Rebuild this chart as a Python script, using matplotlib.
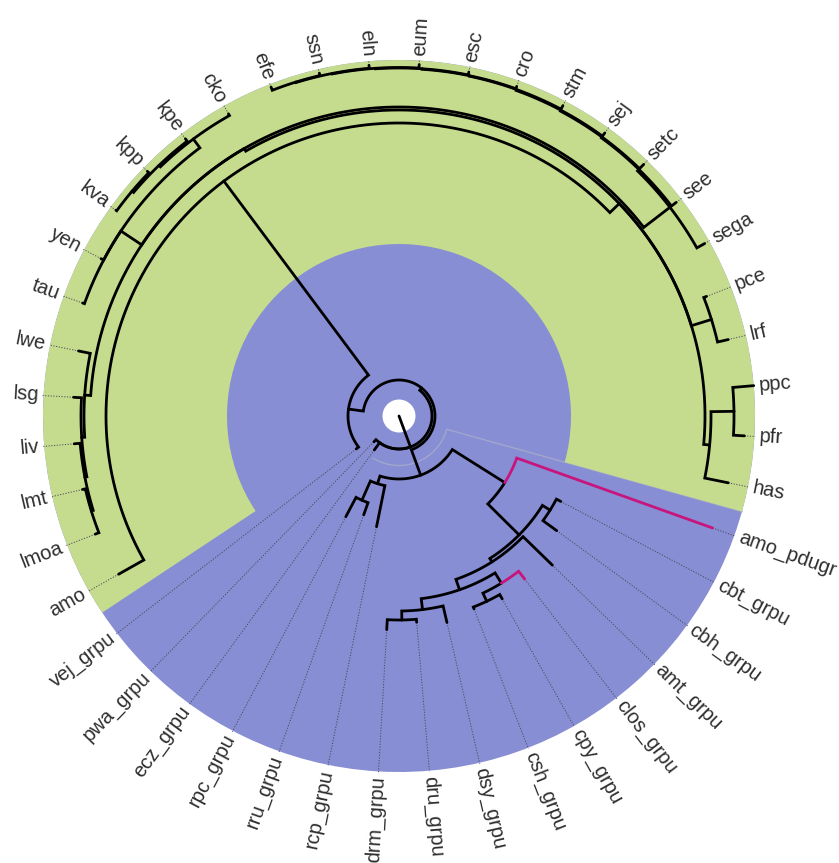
import numpy as np
import matplotlib
matplotlib.use("Agg")
import matplotlib.pyplot as plt

# ---------------- data ----------------
# tips in circular order (counter-clockwise)
tips = ["pwa_grpu", "ecz_grpu", "rpc_grpu", "rru_grpu", "rcp_grpu", "drm_grpu",
        "dru_grpu", "dsy_grpu", "csh_grpu", "cpy_grpu", "clos_grpu", "amt_grpu",
        "cbh_grpu", "cbt_grpu", "amo_pdugr", "has", "pfr", "ppc", "lrf", "pce",
        "sega", "see", "setc", "sej", "stm", "cro", "esc", "eum", "eln", "ssn",
        "efe", "cko", "kpe", "kpp", "kva", "yen", "tau", "lwe", "lsg", "liv",
        "lmt", "lmoa", "amo", "vej_grpu"]
# distance from root of each tip
tip_depth = [36, 42, 114, 105, 113, 214, 207, 212, 207, 210, 206, 214,
             195, 183, 333, 336, 346, 356, 338, 330,
             351, 350, 351, 350, 351, 350, 351, 352, 352, 352,
             353, 347, 350, 351, 350, 337, 336, 327, 326, 326,
             325, 326, 322, 54]
# internal nodes: name, distance from root, children
node_names = ["root", "E1", "E2", "A", "N1", "N2", "N3", "N6", "N5", "X", "Y",
              "Q", "Rn", "T", "U", "D", "G", "J1", "P3", "P2", "P1", "M",
              "EF1", "EF2", "EF3", "EF4", "EF5", "EF6", "EF7", "EF8", "EF9", "EF10",
              "K0", "C", "KL", "KV", "Lst", "L2", "L3", "L4"]
node_depth = [0, 33, 36, 63, 71, 92, 125, 169, 178, 173, 184,
              196, 205, 195, 204, 51, 293, 306, 312, 335, 327, 309,
              342, 344, 345, 346, 347, 347.5, 348, 348.5, 349, 349.5,
              334, 345, 347, 349, 315, 318, 320, 322]
node_children = [
    ["E1"], ["pwa_grpu", "ecz_grpu", "E2"], ["A", "D"], ["N1", "N3"],
    ["N2", "rcp_grpu"], ["rpc_grpu", "rru_grpu"], ["N6", "amo_pdugr"],
    ["X", "N5"], ["cbh_grpu", "cbt_grpu"], ["Y", "amt_grpu"], ["T", "Q"],
    ["Rn", "clos_grpu"], ["csh_grpu", "cpy_grpu"], ["U", "dsy_grpu"],
    ["drm_grpu", "dru_grpu"], ["G", "vej_grpu"], ["J1", "amo"],
    ["P3", "P1", "M"], ["has", "P2"], ["pfr", "ppc"], ["lrf", "pce"],
    ["EF1", "K0", "Lst"],
    ["sega", "EF2"], ["see", "EF3"], ["setc", "EF4"], ["sej", "EF5"],
    ["stm", "EF6"], ["cro", "EF7"], ["esc", "EF8"], ["eum", "EF9"],
    ["eln", "EF10"], ["ssn", "efe"],
    ["C", "yen", "tau"], ["cko", "KL"], ["kpe", "KV"], ["kpp", "kva"],
    ["lwe", "L2"], ["lsg", "L3"], ["liv", "L4"], ["lmt", "lmoa"]]
magenta_tips = ["amo_pdugr", "clos_grpu"]
hilight_nodes = ["E1", "A", "G"]
hilight_fill = ["#878ed3", "none", "#c5dc8e"]

start_angle = 225.8      # angle of first tip (degrees)
outer_radius = 356
label_radius = 361

# ---------------- layout ----------------
depth = dict(zip(tips, tip_depth))
depth.update(zip(node_names, node_depth))
children = dict(zip(node_names, node_children))
parent = {c: p for p, cs in children.items() for c in cs}
ypos = {t: i + 1 for i, t in enumerate(tips)}


def get_y(n):
    if n not in ypos:
        ypos[n] = np.mean([get_y(c) for c in children[n]])
    return ypos[n]


for n in node_names:
    get_y(n)
step = 360.0 / len(tips)


def ang(y):
    return np.deg2rad(start_angle + (y - 1) * step)


def tip_range(n):
    if n in children:
        ys = []
        for c in children[n]:
            ys += tip_range(c)
        return ys
    return [ypos[n]]


# ---------------- figure ----------------
W, H = 839, 863
cx, cy = 399, 416
R = 430
fig = plt.figure(figsize=(W / 100, H / 100), dpi=100)
ax = fig.add_axes([(cx - R) / W, (H - cy - R) / H, 2 * R / W, 2 * R / H],
                  projection="polar")
ax.set_ylim(0, R)
ax.set_axis_off()

# highlights
for k, (n, fc) in enumerate(zip(hilight_nodes, hilight_fill)):
    ys = tip_range(n)
    t0, t1 = ang(min(ys) - 0.5), ang(max(ys) + 0.5)
    r0 = depth[n] - 0.5 * (depth[n] - depth[parent[n]])
    if fc != "none":
        ax.bar((t0 + t1) / 2, outer_radius - r0, width=t1 - t0, bottom=r0,
               color=fc, linewidth=0, zorder=1 + 0.1 * k)
    else:
        th = np.linspace(t0, t1, 200)
        ax.plot(np.r_[th, t1], np.r_[np.full(200, r0), outer_radius],
                color="#a3a6cc", lw=1.0, zorder=1 + 0.1 * k)

# dotted leaders
for t in tips:
    th = ang(ypos[t])
    ax.plot([th, th], [depth[t], outer_radius + 1], color="#4b4b5a", lw=0.7,
            ls=(0, (1.2, 1.6)), zorder=2)

# branches (elbow: arc at parent radius, then radial)
for c, p in parent.items():
    tp, tc = ang(ypos[p]), ang(ypos[c])
    rp, rc = depth[p], depth[c]
    npts = max(2, int(abs(tc - tp) * 200))
    th = np.r_[np.linspace(tp, tc, npts), tc]
    rr = np.r_[np.full(npts, rp), rc]
    col = "#c8157e" if c in magenta_tips else "black"
    ax.plot(th, rr, color=col, lw=2.0, solid_capstyle="round",
            solid_joinstyle="miter", zorder=3)

# labels
for t in tips:
    a = (start_angle + (ypos[t] - 1) * step + 180) % 360 - 180
    if -90 <= a <= 90:
        rot, ha = a, "left"
    else:
        rot, ha = a - 180, "right"
    ax.text(np.deg2rad(a), label_radius, t, rotation=rot, rotation_mode="anchor",
            ha=ha, va="center", fontsize=14.5, family="Liberation Sans",
            color="#2e2e2e", zorder=4)

fig.savefig("out.png", dpi=100)
